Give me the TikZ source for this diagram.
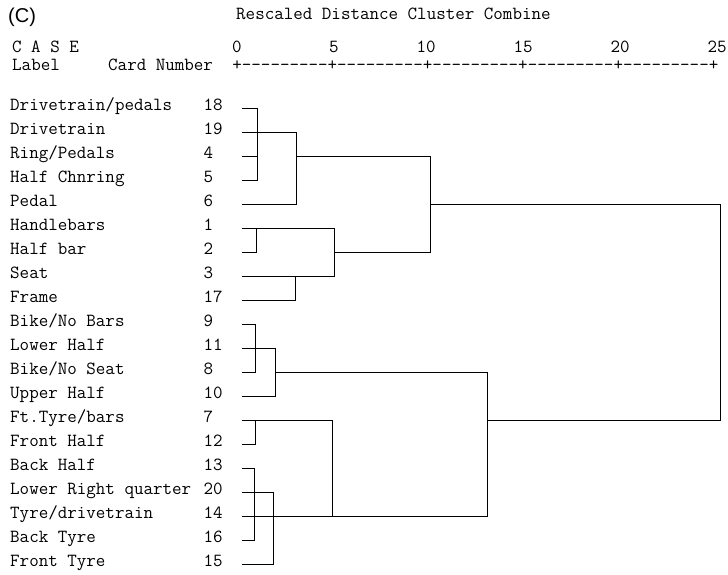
\documentclass[tikz,border=0pt]{standalone}
\usepackage{fontspec}
\newfontfamily\panelfont{Liberation Sans}
\usetikzlibrary{calc}
\tikzset{
    txt/.style = {anchor=mid west, inner sep=0pt,
        font=\ttfamily\fontsize{18.5}{20}\selectfont},
    tick/.style = {txt, anchor=mid east},
    link/.style = {draw, line width=1pt}
}

\begin{document}
\begin{tikzpicture}[x=1pt,y=-1pt]
    \useasboundingbox (0,0) rectangle (728,574);
    % heading
    \node[anchor=west, inner sep=0pt, font=\panelfont\fontsize{20}{22}\selectfont] (panel) at (8,17) {(C)};
    \node[txt] (title) at (236,17) {Rescaled Distance Cluster Combine};
    \node[txt] (case) at (12,50) {C A S E};
    \node[txt] (lab) at (12,68) {Label};
    \node[txt] (cardno) at (108,68) {Card Number};
    \node[txt] (axis) at (232.2,68) {+---------+---------+---------+---------+---------+};
    \foreach \d in {0,5,...,25} { \node[tick] (t\d) at (237+19.4*\d+4.85,50) {\d}; }
    % cases, top to bottom
    \foreach \lab/\num [count=\i from 0] in {
        {Drivetrain/pedals}/18, Drivetrain/19, {Ring/Pedals}/4, Half Chnring/5,
        Pedal/6, Handlebars/1, Half bar/2, Seat/3, Frame/17, {Bike/No Bars}/9,
        Lower Half/11, {Bike/No Seat}/8, Upper Half/10, {Ft.Tyre/bars}/7,
        Front Half/12, Back Half/13, Lower Right quarter/20,
        {Tyre/drivetrain}/14, Back Tyre/16, Front Tyre/15} {
        \node[txt] (n\num) at (10,108+24*\i) {\lab};
        \node[txt] (k\num) at (203.5,108+24*\i) {\num};
        \coordinate (c\num) at (241.5,108+24*\i);
    }
    % first big cluster
    \draw[link] (c18) -- ++(16,0) |- (c5);
    \draw[link] (c4) -- ++(16,0);
    \draw[link] (c19) -- ++(55,0) |- (c6);
    \draw[link] (c1) -- ++(15,0) |- (c2);
    \draw[link] (c1) -- ++(93,0) |- (c3);
    \draw[link] (c17) -- ++(54,0) -- ++(0,-24);
    \draw[link] ($(c4)+(55,0)$) -- ++(134,0) |- ($(c2)+(93,0)$);
    % second big cluster
    \draw[link] (c9) -- ++(14,0) |- (c8);
    \draw[link] (c11) -- ++(34,0) |- (c10);
    \draw[link] (c7) -- ++(14,0) |- (c12);
    \draw[link] (c7) -- ++(91,0) |- (c14);
    \draw[link] (c13) -- ++(13,0) |- (c16);
    \draw[link] (c14) -- ++(13,0);
    \draw[link] (c20) -- ++(32,0) |- (c15);
    \draw[link] ($(c8)+(34,0)$) -- ++(212,0) |- ($(c14)+(91,0)$);
    % join at 25
    \draw[link] ($(c6)+(189,0)$) -- ++(290,0) |- ($(c7)+(246,0)$);
\end{tikzpicture}
\end{document}
